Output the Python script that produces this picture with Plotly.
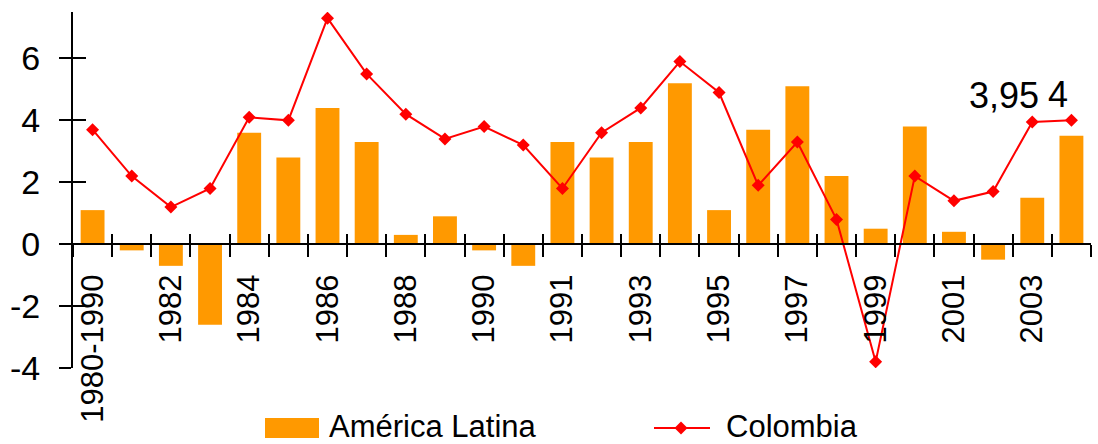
import plotly.graph_objects as go

# Category labels (only every other one is printed on the axis)
periods = ["1980-1990", "1981", "1982", "1983", "1984", "1985", "1986", "1987",
           "1988", "1989", "1990", "1990-2004", "1991", "1992", "1993", "1994",
           "1995", "1996", "1997", "1998", "1999", "2000", "2001", "2002",
           "2003", "2004"]
shown_labels = [p if i % 2 == 0 else "" for i, p in enumerate(periods)]

# Growth rates (%)
america_latina = [1.1, -0.2, -0.7, -2.6, 3.6, 2.8, 4.4, 3.3, 0.3, 0.9, -0.2, -0.7,
                  3.3, 2.8, 3.3, 5.2, 1.1, 3.7, 5.1, 2.2, 0.5, 3.8, 0.4, -0.5,
                  1.5, 3.5]
colombia = [3.7, 2.2, 1.2, 1.8, 4.1, 4.0, 7.3, 5.5, 4.2, 3.4, 3.8, 3.2,
            1.8, 3.6, 4.4, 5.9, 4.9, 1.9, 3.3, 0.8, -3.8, 2.2, 1.4, 1.7,
            3.95, 4.0]

# Values written next to the last two Colombia points
labelled_points = {24: "3,95", 25: "4"}

y_ticks = [-4, -2, 0, 2, 4, 6]
y_tick_text = ["-4", "-2", "0", "2", "4", "6"]
y_range = [-4, 7.5]

W, H = 1098, 444
ML, MR, MT, MB = 73, 7, 12, 76
PW, PH = W - ML - MR, H - MT - MB

FONT = "Liberation Sans, Arial, sans-serif"
ORANGE = "#FF9900"
RED = "#FF0000"


def px_x(px):
    return (px - ML) / PW


def px_y(py):
    return (H - MB - py) / PH


zero_pos = (0 - y_range[0]) / (y_range[1] - y_range[0])

fig = go.Figure()
fig.add_trace(go.Bar(x=periods, y=america_latina, name="América Latina",
                     marker=dict(color=ORANGE, line=dict(width=0)),
                     showlegend=False))
fig.add_trace(go.Scatter(x=periods, y=colombia, name="Colombia",
                         mode="lines+markers",
                         line=dict(color=RED, width=2),
                         marker=dict(symbol="diamond", size=10, color=RED),
                         showlegend=False))
# helper traces so the overlay axes (inner halves of crossing ticks) are drawn
fig.add_trace(go.Scatter(x=[], y=[], xaxis="x2", yaxis="y", showlegend=False,
                         hoverinfo="skip"))
fig.add_trace(go.Scatter(x=[], y=[], xaxis="x", yaxis="y2", showlegend=False,
                         hoverinfo="skip"))

# data labels; category axis positions are given by index
for idx, txt in labelled_points.items():
    fig.add_annotation(x=idx, y=colombia[idx], text=txt,
                       showarrow=False, yshift=26,
                       xshift=-28 if idx == 24 else -13,
                       font=dict(family=FONT, size=36, color="black"))

# legend drawn by hand: wide orange swatch and line-with-diamond sample
fig.add_shape(type="rect", xref="paper", yref="paper",
              x0=px_x(265), x1=px_x(319), y0=px_y(438), y1=px_y(418),
              fillcolor=ORANGE, line=dict(width=0))
fig.add_annotation(xref="paper", yref="paper", x=px_x(327), y=px_y(427),
                   xanchor="left", yanchor="middle", showarrow=False,
                   text="América Latina",
                   font=dict(family=FONT, size=31, color="black"))
fig.add_shape(type="line", xref="paper", yref="paper",
              x0=px_x(654), x1=px_x(710), y0=px_y(428), y1=px_y(428),
              line=dict(color=RED, width=2))
dx, dy = 6.5 / PW, 6.5 / PH
cx, cy = px_x(681), px_y(428)
fig.add_shape(type="path", xref="paper", yref="paper",
              path=f"M {cx},{cy + dy} L {cx + dx},{cy} L {cx},{cy - dy} L {cx - dx},{cy} Z",
              fillcolor=RED, line=dict(color=RED, width=0))
fig.add_annotation(xref="paper", yref="paper", x=px_x(724), y=px_y(427),
                   xanchor="left", yanchor="middle", showarrow=False,
                   text="Colombia",
                   font=dict(family=FONT, size=31, color="black"))

fig.update_layout(
    width=W, height=H,
    margin=dict(l=ML, r=MR, t=MT, b=MB, pad=0),
    paper_bgcolor="white", plot_bgcolor="white",
    bargap=0.39,
    font=dict(family=FONT, color="black"),
    xaxis=dict(type="category", categoryorder="array", categoryarray=periods,
               range=[-0.5, len(periods) - 0.5],
               tickmode="array", tickvals=periods, ticktext=shown_labels,
               tickson="boundaries", ticks="outside", ticklen=12, tickwidth=2,
               tickcolor="black", tickangle=-90, ticklabelstandoff=17,
               tickfont=dict(family=FONT, size=31, color="black"),
               showline=True, linecolor="black", linewidth=2,
               anchor="free", position=zero_pos,
               showgrid=False, zeroline=False, fixedrange=True),
    xaxis2=dict(overlaying="x", anchor="free", position=zero_pos,
                range=[-0.5, len(periods) - 0.5], tickmode="linear",
                tick0=-0.5, dtick=1, ticks="inside", ticklen=10, tickwidth=2,
                tickcolor="black", showticklabels=False, showline=False,
                showgrid=False, zeroline=False),
    yaxis=dict(range=y_range, tickmode="array", tickvals=y_ticks,
               ticktext=y_tick_text, ticks="outside", ticklen=12, tickwidth=2,
               tickcolor="black", ticklabelstandoff=12,
               tickfont=dict(family=FONT, size=34, color="black"),
               showline=True, linecolor="black", linewidth=2,
               showgrid=False, zeroline=False),
    yaxis2=dict(overlaying="y", range=y_range, tickmode="array",
                tickvals=y_ticks, ticks="inside", ticklen=13, tickwidth=2,
                tickcolor="black", showticklabels=False, showline=False,
                showgrid=False, zeroline=False, side="left"),
)

fig.write_html("out.html")
